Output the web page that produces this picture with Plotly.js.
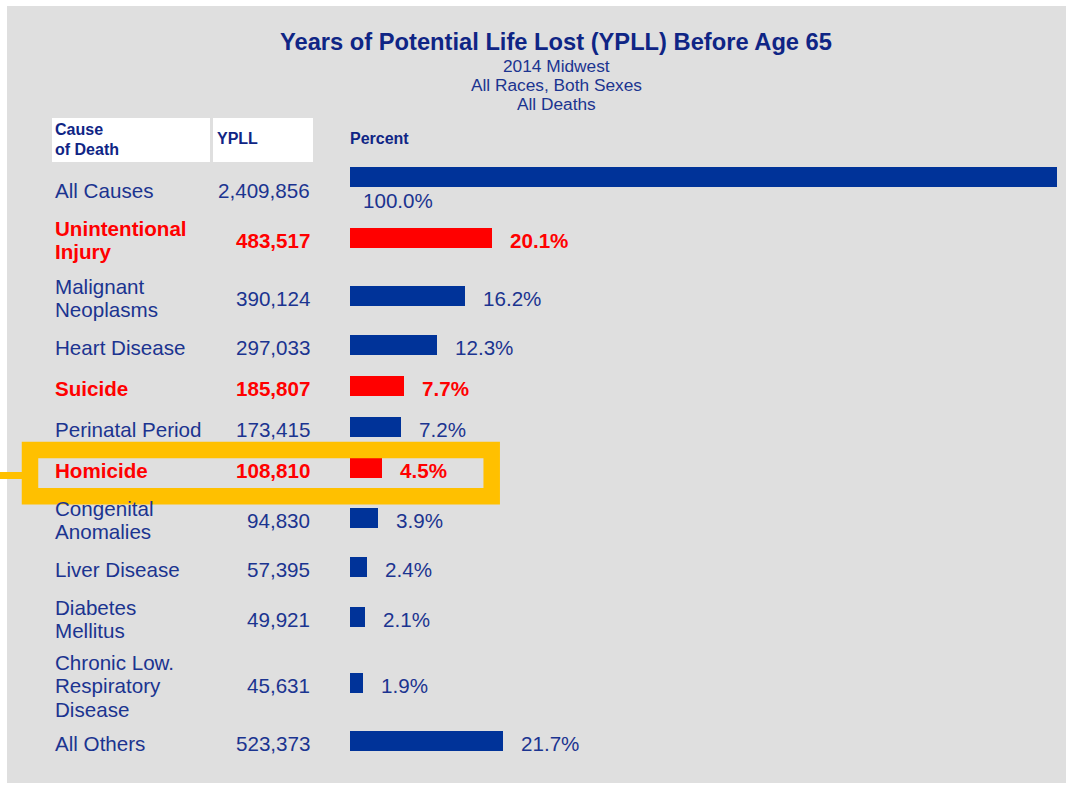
<!DOCTYPE html>
<html>
<head>
<meta charset="utf-8">
<script src="https://cdn.plot.ly/plotly-3.0.1.min.js"></script>
<style>html,body{margin:0;padding:0;background:#fff;}#chart{width:1066px;height:785px;}</style>
</head>
<body>
<div id="chart"></div>
<script>
// ---- data ----
const causes = ["All Causes", "Unintentional<br>Injury", "Malignant<br>Neoplasms", "Heart Disease",
  "Suicide", "Perinatal Period", "Homicide", "Congenital<br>Anomalies", "Liver Disease",
  "Diabetes<br>Mellitus", "Chronic Low.<br>Respiratory<br>Disease", "All Others"];
const ypll = [2409856, 483517, 390124, 297033, 185807, 173415, 108810, 94830, 57395, 49921, 45631, 523373];
const percent = [100.0, 20.1, 16.2, 12.3, 7.7, 7.2, 4.5, 3.9, 2.4, 2.1, 1.9, 21.7];
const emphasized = ["Unintentional<br>Injury", "Suicide", "Homicide"];
const titleText = "Years of Potential Life Lost (YPLL) Before Age 65";
const subtitleLines = ["2014 Midwest", "All Races, Both Sexes", "All Deaths"];
const headerCause = ["Cause", "of Death"];
const headerYpll = "YPLL";
const headerPct = "Percent";

// ---- layout helpers ----
const W = 1066, H = 785;
const NAVY = "#1b3490", TITLE = "#0f2585", BAR = "#003399", RED = "#ff0000";
const FONT = "Liberation Sans, Arial, sans-serif";
const px = v => v / W;          // pixel -> paper x
const py = v => 1 - v / H;      // pixel -> paper y
const fmt = n => n.toLocaleString("en-US");
const isEm = causes.map(c => emphasized.includes(c));
const nLines = causes.map(c => c.split("<br>").length);

// row positions derived from the number of label lines (y unit = 1 px, 0 = first row)
const pos = [0];
for (let i = 1; i < causes.length; i++) pos.push(pos[i - 1] + 24 + 8.5 * (nLines[i - 1] + nLines[i]));
const Y0 = 188; // pixel of first row

const barTrace = {
  type: "bar", orientation: "h",
  x: percent, y: pos,
  width: 20,
  offset: pos.map((p, i) => i === 0 ? -21 : -10),
  marker: { color: isEm.map(e => e ? RED : BAR), line: { width: 0 } },
  hoverinfo: "skip"
};

const TS = -2.5; // text vertical nudge in px (negative = down)
const ann = [];
// subtitle lines
subtitleLines.forEach((t, k) => ann.push({
  text: t, xref: "paper", yref: "paper", x: px(556), y: py(66 + 19 * k),
  xanchor: "center", yanchor: "middle", showarrow: false,
  font: { family: FONT, size: 17.3, color: NAVY }
}));
// header
headerCause.forEach((t, k) => ann.push({
  text: "<b>" + t + "</b>", xref: "paper", yref: "paper", x: px(53), y: py(130 + 20 * k),
  xanchor: "left", yanchor: "middle", showarrow: false,
  font: { family: FONT, size: 16, color: TITLE }
}));
ann.push({ text: "<b>" + headerYpll + "</b>", xref: "paper", yref: "paper", x: px(215), y: py(139),
  xanchor: "left", yanchor: "middle", showarrow: false, font: { family: FONT, size: 16, color: TITLE } });
ann.push({ text: "<b>" + headerPct + "</b>", xref: "paper", yref: "paper", x: px(348), y: py(139),
  xanchor: "left", yanchor: "middle", showarrow: false, font: { family: FONT, size: 16, color: TITLE } });

// rows
causes.forEach((c, i) => {
  const col = isEm[i] ? RED : NAVY;
  const wrap = t => isEm[i] ? "<b>" + t + "</b>" : t;
  const lines = c.split("<br>");
  lines.forEach((ln, k) => ann.push({
    text: wrap(ln), xref: "paper", yref: "y", x: px(53), y: pos[i],
    yshift: TS - ((k - (lines.length - 1) / 2) * 23.5),
    xanchor: "left", yanchor: "middle", showarrow: false,
    font: { family: FONT, size: 20.6, color: col }
  }));
  ann.push({
    text: wrap(fmt(ypll[i])), xref: "paper", yref: "y", x: px(312), y: pos[i], yshift: TS,
    xanchor: "right", yanchor: "middle", showarrow: false,
    font: { family: FONT, size: 20.6, color: col }
  });
  ann.push({
    text: wrap(percent[i].toFixed(1) + "%"), xref: "x", yref: "y",
    x: i === 0 ? 0 : percent[i], y: pos[i],
    xshift: i === 0 ? 11 : 16, yshift: i === 0 ? -10 + TS : TS,
    xanchor: "left", yanchor: "middle", showarrow: false,
    font: { family: FONT, size: 20.6, color: col }
  });
});

const shapes = [
  // gray panel
  { type: "rect", xref: "paper", yref: "paper", x0: px(7), x1: px(1066), y0: py(6), y1: py(783),
    fillcolor: "#dfdfdf", line: { width: 0 }, layer: "below" },
  // header cells
  { type: "rect", xref: "paper", yref: "paper", x0: px(52), x1: px(210), y0: py(118), y1: py(162),
    fillcolor: "#ffffff", line: { width: 0 }, layer: "below" },
  { type: "rect", xref: "paper", yref: "paper", x0: px(213), x1: px(313), y0: py(118), y1: py(162),
    fillcolor: "#ffffff", line: { width: 0 }, layer: "below" },
  // highlight frame and connector
  { type: "rect", xref: "paper", yref: "paper", x0: px(30), x1: px(491.7), y0: py(450), y1: py(496.2),
    fillcolor: "rgba(0,0,0,0)", line: { width: 16.5, color: "#ffc000" }, layer: "above" },
  { type: "line", xref: "paper", yref: "paper", x0: px(0), x1: px(22), y0: py(475.5), y1: py(475.5),
    line: { width: 7, color: "#ffc000" }, layer: "above" }
];

// x axis: 0 at pixel 350, 100 at pixel 1057
const scale = (1057 - 350) / 100;
const xr = [-350 / scale, (W - 350) / scale];

const layout = {
  width: W, height: H,
  margin: { l: 0, r: 0, t: 0, b: 0, pad: 0 },
  paper_bgcolor: "#ffffff", plot_bgcolor: "rgba(0,0,0,0)",
  title: { text: "<b>" + titleText + "</b>", x: px(556), xanchor: "center", xref: "paper",
    y: 1 - 42 / H, yanchor: "middle", yref: "container",
    font: { family: FONT, size: 23.7, color: TITLE } },
  xaxis: { range: xr, visible: false, fixedrange: true },
  yaxis: { range: [H - Y0, -Y0], visible: false, fixedrange: true },
  showlegend: false, bargap: 0,
  shapes: shapes, annotations: ann
};

Plotly.newPlot("chart", [barTrace], layout, { displayModeBar: false, staticPlot: true });
</script>
</body>
</html>
